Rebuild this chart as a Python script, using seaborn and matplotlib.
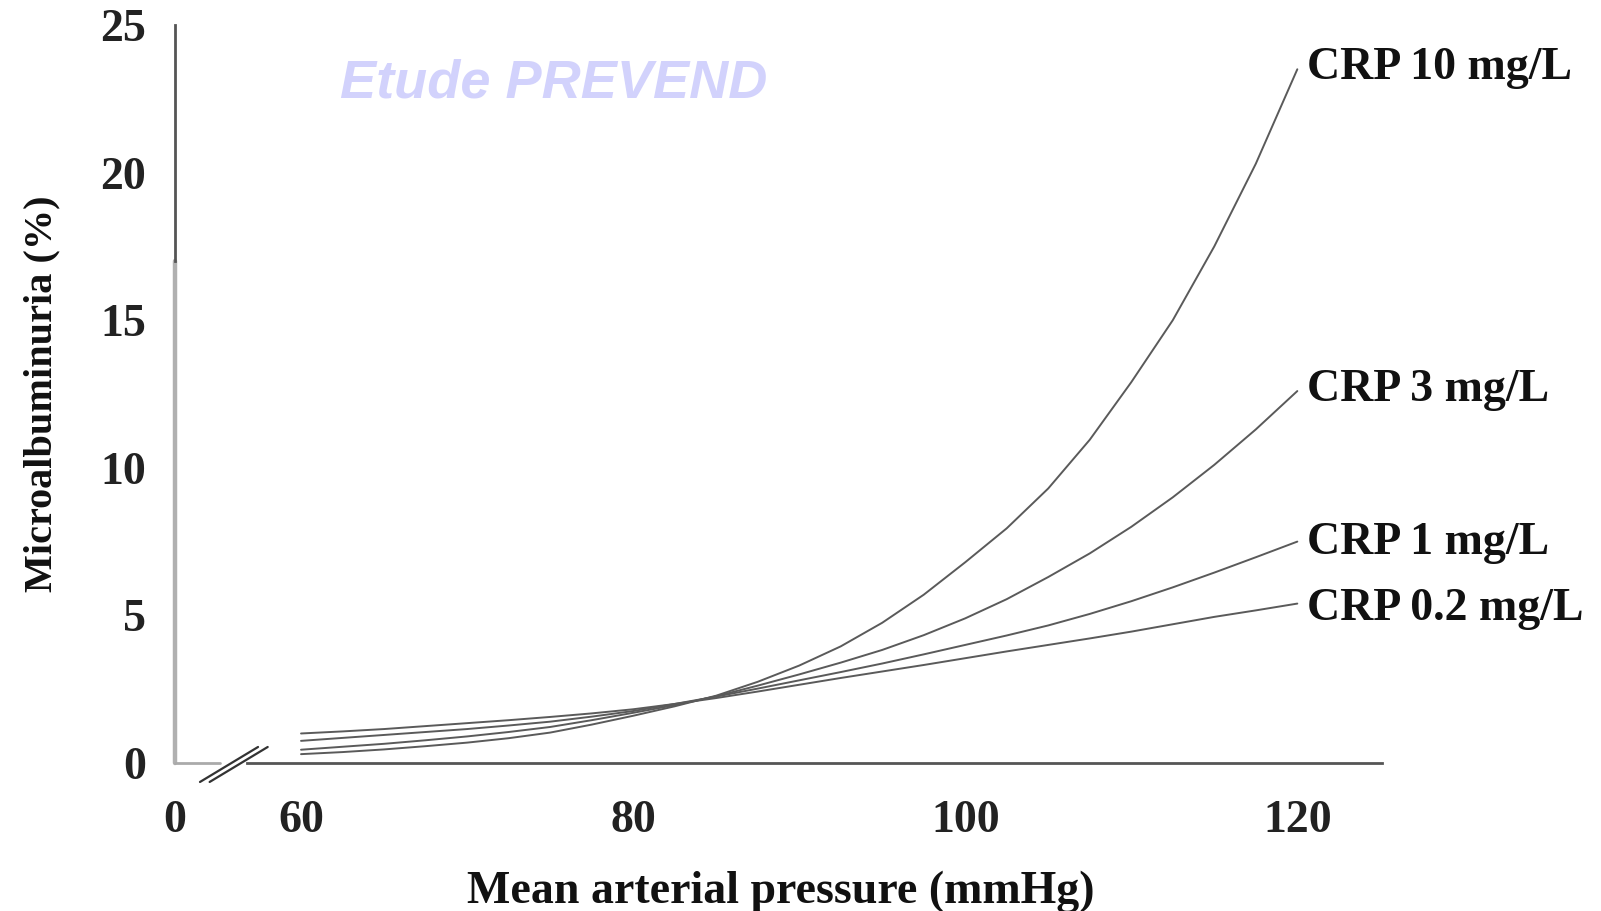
import numpy as np
import pandas as pd
import matplotlib
matplotlib.use("Agg")
import matplotlib.pyplot as plt
import seaborn as sns
from matplotlib.lines import Line2D

# ---- data ----
map_values = [60, 62.5, 65, 67.5, 70, 72.5, 75, 77.5, 80, 82.5, 85, 87.5, 90,
              92.5, 95, 97.5, 100, 102.5, 105, 107.5, 110, 112.5, 115, 117.5, 120]
crp_10 = [0.3, 0.37, 0.46, 0.57, 0.69, 0.84, 1.03, 1.3, 1.6, 1.92, 2.28, 2.75, 3.3,
          3.95, 4.75, 5.7, 6.8, 7.95, 9.3, 10.95, 12.9, 15.0, 17.5, 20.3, 23.5]
crp_3 = [0.45, 0.55, 0.65, 0.77, 0.9, 1.05, 1.22, 1.45, 1.7, 1.96, 2.26, 2.62, 3.0,
         3.4, 3.83, 4.33, 4.9, 5.55, 6.3, 7.1, 8.0, 9.0, 10.1, 11.3, 12.6]
crp_1 = [0.75, 0.85, 0.95, 1.05, 1.15, 1.27, 1.4, 1.57, 1.76, 2.0, 2.25, 2.52, 2.8,
         3.08, 3.37, 3.68, 4.0, 4.32, 4.66, 5.05, 5.48, 5.95, 6.45, 6.97, 7.5]
crp_02 = [1.0, 1.07, 1.15, 1.25, 1.35, 1.45, 1.56, 1.68, 1.82, 2.0, 2.2, 2.42, 2.65,
          2.88, 3.1, 3.32, 3.55, 3.78, 4.0, 4.22, 4.45, 4.7, 4.95, 5.17, 5.4]
series_names = ["CRP 10 mg/L", "CRP 3 mg/L", "CRP 1 mg/L", "CRP 0.2 mg/L"]
series_values = [crp_10, crp_3, crp_1, crp_02]
x_ticks = [0, 60, 80, 100, 120]
y_ticks = [0, 5, 10, 15, 20, 25]
x_label = "Mean arterial pressure (mmHg)"
y_label = "Microalbuminuria (%)"
watermark = "Etude PREVEND"

df = pd.concat(
    [pd.DataFrame({"MAP": map_values, "pct": v, "series": n})
     for n, v in zip(series_names, series_values)],
    ignore_index=True,
)

sns.set_theme(style="white")
plt.rcParams["font.family"] = ["Liberation Serif", "DejaVu Serif"]
plt.rcParams["font.weight"] = "bold"

fig = plt.figure(figsize=(16.01, 9.11), dpi=100)
ax = fig.add_axes([175 / 1601, 1 - 763 / 911, (1382 - 175) / 1601, (763 - 25) / 911])

# broken x axis: compress 0..60
K = 0.1265
def fwd(x):
    x = np.asarray(x, dtype=float)
    return np.where(x >= 60, x, 60 - (60 - x) * K)
def inv(t):
    t = np.asarray(t, dtype=float)
    return np.where(t >= 60, t, 60 - (60 - t) / K)
ax.set_xscale("function", functions=(fwd, inv))

line_col = "#5a5a5a"
sns.lineplot(data=df, x="MAP", y="pct", hue="series",
             palette=[line_col] * 4, linewidth=1.4, legend=False, ax=ax,
             estimator=None, sort=True)

ax.set_xlim(0, 125.1)
ax.set_ylim(0, 25)
ax.set_xticks(x_ticks)
ax.set_yticks(y_ticks)
ax.set_xticklabels([str(t) for t in x_ticks])
ax.set_yticklabels([str(t) for t in y_ticks])

for s in ["top", "right"]:
    ax.spines[s].set_visible(False)

# left spine: dark top part, light lower part
ax.spines["left"].set_color("#555555")
ax.spines["left"].set_linewidth(2.0)
ax.spines["left"].set_bounds(17, 25)
ax.axvline(0, ymin=0, ymax=17 / 25, color="#b0b0b0", lw=3.2, zorder=1, clip_on=False)

# bottom spine with break
brk_lo = float(inv(52.41 + 45 / 16.6))
brk_hi = float(inv(52.41 + 72 / 16.6))
ax.spines["bottom"].set_color("#555555")
ax.spines["bottom"].set_linewidth(2.0)
ax.spines["bottom"].set_bounds(brk_hi, 125.1)
ax.plot([0, brk_lo], [0, 0], color="#aaaaaa", lw=2.0, clip_on=False, zorder=1)

# break slashes
for dx in (0.0, 0.008):
    ax.add_line(Line2D([0.0207 + dx, 0.0688 + dx], [-0.0257, 0.0217],
                       transform=ax.transAxes, color="#333333", lw=1.6,
                       clip_on=False))

ax.tick_params(axis="both", which="major", direction="out", length=9,
               width=1.6, color="#666666", labelsize=33, labelcolor="#222222")
ax.tick_params(axis="y", pad=12)
ax.tick_params(axis="x", pad=18)
for lab in ax.get_xticklabels() + ax.get_yticklabels():
    lab.set_fontweight("bold")

ax.set_xlabel(x_label, fontsize=33, fontweight="bold", color="#111111")
ax.set_ylabel(y_label, fontsize=29, fontweight="bold", color="#111111")
ax.xaxis.set_label_coords(0.502, -0.146)
ax.yaxis.set_label_coords(-0.095, 0.50)

# series labels at the right end
label_y = [23.55, 12.65, 7.45, 5.2]
for n, yv in zip(series_names, label_y):
    ax.text(120.6, yv, n, fontsize=33, fontweight="bold", color="#111111",
            ha="left", va="center", clip_on=False)

ax.text(0.137, 0.921, watermark, transform=ax.transAxes, fontsize=39,
        fontstyle="italic", fontweight="bold", color="#d2d2fc",
        family=["Liberation Sans", "DejaVu Sans"], ha="left", va="center")

fig.savefig("out.png", dpi=100, facecolor="white")
